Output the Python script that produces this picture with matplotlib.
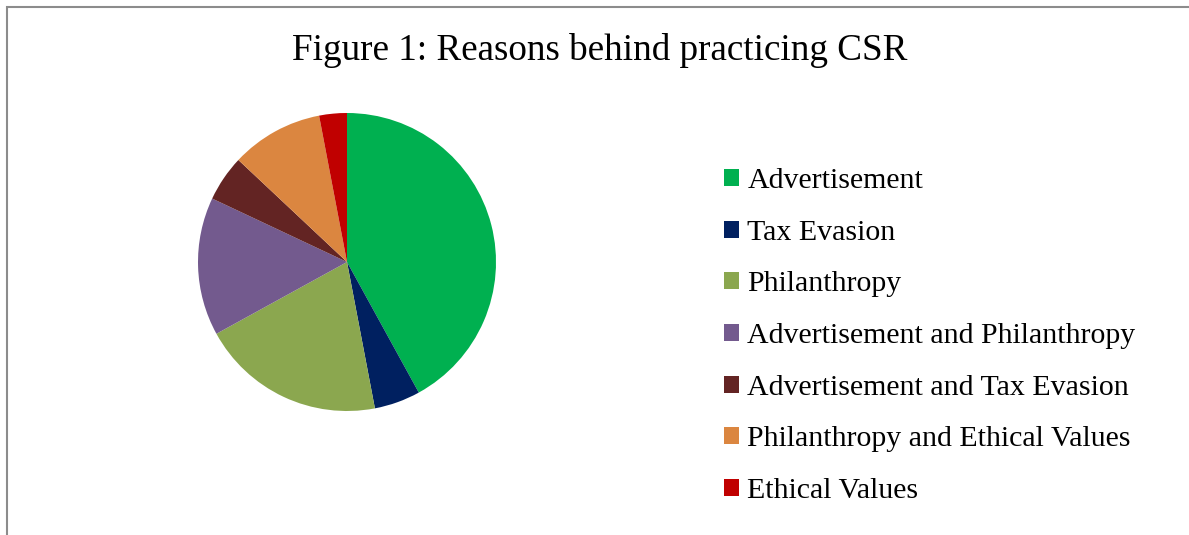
import matplotlib.pyplot as plt
from matplotlib.patches import Rectangle

plt.rcParams['font.family'] = ['Liberation Serif', 'DejaVu Serif']

labels = ["Advertisement", "Tax Evasion", "Philanthropy",
          "Advertisement and Philanthropy", "Advertisement and Tax Evasion",
          "Philanthropy and Ethical Values", "Ethical Values"]
shares = [42, 5, 20, 15, 5, 10, 3]
colors = ["#00B050", "#002060", "#8BA74F", "#735A8E", "#632423", "#DB8640", "#C00000"]

W, H = 1189, 535
fig = plt.figure(figsize=(W / 100, H / 100), dpi=100)

# chart-area border (only top and left edges visible in the crop)
fig.patches.append(Rectangle((7 / W, -0.1), 1.2, (535 - 6) / H + 0.1 - 0.001,
                             transform=fig.transFigure, fill=False,
                             edgecolor="#8c8c8c", linewidth=1.5))

cx, cy, r = 347, 262, 149
ax = fig.add_axes([(cx - r) / W, (H - cy - r) / H, 2 * r / W, 2 * r / H])
wedges, _ = ax.pie(shares, colors=colors, startangle=90, counterclock=False,
                   radius=1, wedgeprops=dict(linewidth=0))
ax.set_xlim(-1, 1)
ax.set_ylim(-1, 1)
ax.set_aspect("equal")

fig.text(600 / W, 1 - 50 / H, "Figure 1: Reasons behind practicing CSR",
         ha="center", va="center", fontsize=26.7)

fig.legend(wedges, labels, loc="upper left", bbox_to_anchor=(724 / W, 1 - 168 / H),
           frameon=False, fontsize=21.5, handlelength=0.5, handleheight=0.5,
           handletextpad=0.28, labelspacing=0.86, borderpad=0, borderaxespad=0)

fig.savefig("out.png", dpi=100, facecolor="white")
